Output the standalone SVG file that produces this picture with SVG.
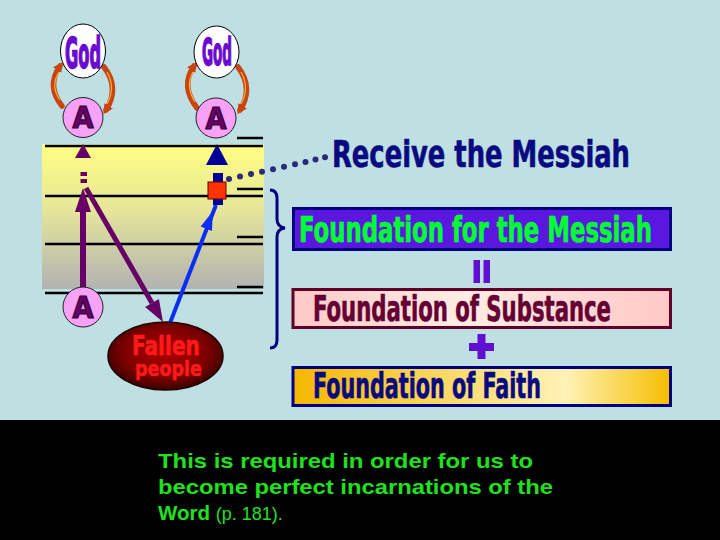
<svg xmlns="http://www.w3.org/2000/svg" width="720" height="540" viewBox="0 0 720 540">
<style>
.cond{font-family:"Liberation Sans Narrow","DejaVu Sans Condensed","Liberation Sans",sans-serif;font-weight:bold;font-stretch:condensed}
.hl{stroke:black;stroke-width:2.5}
.god{fill:#fff;stroke:#000;stroke-width:1}
.godt{fill:#6A0ACF;stroke:#6A0ACF;stroke-width:1.6}
.acirc{fill:#F7A2F7;stroke:#222;stroke-width:1}
.at{fill:#660066;stroke:#330033;stroke-width:1.2;text-anchor:middle}
.orng{fill:none;stroke:#C84512;stroke-width:5.5;stroke-linecap:round}
.orhl{fill:none;stroke:#F2B040;stroke-width:1.2}
.dot{fill:#2A2A7A}
</style>
<defs>
<linearGradient id="yg" x1="0" y1="0" x2="0" y2="1">
<stop offset="0" stop-color="#FFFF80"/>
<stop offset="0.45" stop-color="#E6E69A"/>
<stop offset="1" stop-color="#B2B2B2"/>
</linearGradient>
<radialGradient id="fg" cx="0.5" cy="0.45" r="0.55">
<stop offset="0" stop-color="#B00000"/>
<stop offset="0.7" stop-color="#7A0000"/>
<stop offset="1" stop-color="#380000"/>
</radialGradient>
<linearGradient id="pg" x1="0" y1="0" x2="1" y2="0">
<stop offset="0" stop-color="#FFC8C8"/>
<stop offset="0.45" stop-color="#FFEDE4"/>
<stop offset="1" stop-color="#FFC8C8"/>
</linearGradient>
<linearGradient id="gg" x1="0" y1="0" x2="1" y2="0">
<stop offset="0" stop-color="#F5B800"/>
<stop offset="0.72" stop-color="#FFF2B8"/>
<stop offset="1" stop-color="#F5BE00"/>
</linearGradient>
<marker id="oa" viewBox="0 0 10 10" refX="5" refY="5" markerWidth="10" markerHeight="10" markerUnits="userSpaceOnUse" orient="auto">
<path d="M0,0 L10,5 L0,10 Z" fill="#C84512"/>
</marker>
</defs>
<rect width="720" height="540" fill="#BEE0E3"/>
<rect x="42" y="144" width="222" height="145" fill="url(#yg)"/>
<g id="levels">
<line class="hl" x1="45" y1="146" x2="263" y2="146"/>
<line class="hl" x1="45" y1="196" x2="263" y2="196"/>
<line class="hl" x1="45" y1="244" x2="263" y2="244"/>
<line class="hl" x1="45" y1="293" x2="263" y2="293"/>
<line class="hl" x1="237" y1="138" x2="263" y2="138"/>
<line class="hl" x1="237" y1="189" x2="263" y2="189"/>
<line class="hl" x1="237" y1="237" x2="263" y2="237"/>
<line class="hl" x1="237" y1="287" x2="263" y2="287"/>
</g>
<g id="connectors">
<path class="orng" d="M62,106 Q46,86 60,66" marker-end="url(#oa)"/>
<path class="orhl" d="M60,100 Q50,86 59,72"/>
<path class="orng" d="M104,67 Q120,88 106,110" marker-end="url(#oa)"/>
<path class="orhl" d="M107,72 Q116,88 107,104"/>
<path class="orng" d="M197,108 Q180,86 194,66" marker-end="url(#oa)"/>
<path class="orhl" d="M195,102 Q185,86 193,72"/>
<path class="orng" d="M238,67 Q254,88 240,110" marker-end="url(#oa)"/>
<path class="orhl" d="M241,72 Q250,88 241,104"/>
<polygon points="83,144 75,158 91,158" fill="#660066"/>
<rect x="80.5" y="172" width="6.5" height="4" fill="#660066"/>
<rect x="80.5" y="179" width="6.5" height="4" fill="#660066"/>
<polygon points="83,188 75,212 91,212" fill="#660066"/>
<line x1="83" y1="210" x2="83" y2="290" stroke="#660066" stroke-width="6"/>
<line x1="86" y1="188" x2="152" y2="303" stroke="#660066" stroke-width="5"/>
<polygon points="163,322 145.1,306.9 158.9,298.9" fill="#660066"/>
<line x1="170" y1="323" x2="216" y2="205" stroke="#0A2EF5" stroke-width="4"/>
<polygon points="213,211 200.7,226.5 211.9,230.9" fill="#0A2EF5"/>
<polygon points="217,144 206,165 228,165" fill="#000099"/>
<rect x="213" y="173" width="10" height="32" fill="#000099"/>
<rect x="208" y="182" width="18" height="17" fill="#FF3300" stroke="#660000" stroke-width="1"/>
<g id="dots">
<circle class="dot" cx="229" cy="179" r="3"/>
<circle class="dot" cx="240" cy="176.6" r="3"/>
<circle class="dot" cx="251" cy="174.1" r="3"/>
<circle class="dot" cx="262" cy="171.7" r="3"/>
<circle class="dot" cx="273" cy="169.2" r="3"/>
<circle class="dot" cx="284" cy="166.7" r="3"/>
<circle class="dot" cx="295" cy="164.3" r="3"/>
<circle class="dot" cx="305.5" cy="162" r="3"/>
<circle class="dot" cx="315.5" cy="159.6" r="3"/>
<circle class="dot" cx="325" cy="157.3" r="3"/>
</g>
<path d="M270,190 Q277,190 277,198 L277,219 Q277,227 285,228 Q277,229 277,237 L277,340 Q277,348 270,348" fill="none" stroke="#000080" stroke-width="3"/>
<rect x="473.5" y="260" width="6.5" height="23" fill="#6010D0"/>
<rect x="483.5" y="260" width="6.5" height="23" fill="#6010D0"/>
<rect x="469" y="343" width="25" height="8" fill="#6010D0"/>
<rect x="477.5" y="334" width="8" height="25" fill="#6010D0"/>
</g>
<g id="god1">
<ellipse class="god" cx="83" cy="51" rx="22.5" ry="27"/>
<text class="cond godt" x="65" y="68" font-size="42" textLength="36" lengthAdjust="spacingAndGlyphs">God</text>
</g>
<g id="god2">
<ellipse class="god" cx="216.5" cy="52" rx="22.5" ry="26"/>
<text class="cond godt" x="202" y="65" font-size="37" textLength="30" lengthAdjust="spacingAndGlyphs">God</text>
</g>
<g id="a1">
<circle class="acirc" cx="83" cy="117.5" r="20"/>
<text class="cond at" x="83" y="128" font-size="31" textLength="21" lengthAdjust="spacingAndGlyphs">A</text>
</g>
<g id="a2">
<circle class="acirc" cx="216" cy="118" r="20"/>
<text class="cond at" x="216" y="129" font-size="31" textLength="21" lengthAdjust="spacingAndGlyphs">A</text>
</g>
<g id="a3">
<circle class="acirc" cx="83" cy="307" r="20"/>
<text class="cond at" x="83" y="318" font-size="31" textLength="21" lengthAdjust="spacingAndGlyphs">A</text>
</g>
<g id="fallen">
<ellipse cx="165.5" cy="356" rx="57.5" ry="34" fill="url(#fg)" stroke="#200000" stroke-width="1.5"/>
<text class="cond" x="132" y="355" font-size="27" fill="#FF1A1A" stroke="#FF1A1A" stroke-width="0.6" textLength="68" lengthAdjust="spacingAndGlyphs">Fallen</text>
<text class="cond" x="135" y="376" font-size="22" fill="#FF1A1A" stroke="#FF1A1A" stroke-width="0.5" textLength="67" lengthAdjust="spacingAndGlyphs">people</text>
</g>
<g id="receive">
<text class="cond" transform="translate(332,167) scale(1,1.24)" x="0" y="0" font-size="30" fill="#0A0A80" stroke="#0A0A80" stroke-width="0.5" textLength="298" lengthAdjust="spacingAndGlyphs">Receive the Messiah</text>
</g>
<g id="fmessiah">
<rect x="293.5" y="208.5" width="377" height="41" fill="#5B16E0" stroke="#000080" stroke-width="3"/>
<text class="cond" transform="translate(299,242) scale(1,1.25)" x="0" y="0" font-size="28" fill="#00FF33" stroke="#00FF33" stroke-width="0.5" textLength="353" lengthAdjust="spacingAndGlyphs">Foundation for the Messiah</text>
</g>
<g id="fsubstance">
<rect x="293" y="289.5" width="377.5" height="38" fill="url(#pg)" stroke="#600028" stroke-width="3"/>
<text class="cond" transform="translate(313,321) scale(1,1.28)" x="0" y="0" font-size="28" fill="#660033" stroke="#660033" stroke-width="0.5" textLength="298" lengthAdjust="spacingAndGlyphs">Foundation of Substance</text>
</g>
<g id="ffaith">
<rect x="293" y="367.5" width="377.5" height="38" fill="url(#gg)" stroke="#000080" stroke-width="3"/>
<text class="cond" transform="translate(313,398) scale(1,1.28)" x="0" y="0" font-size="28" fill="#0A0A80" stroke="#0A0A80" stroke-width="0.5" textLength="228" lengthAdjust="spacingAndGlyphs">Foundation of Faith</text>
</g>
<rect x="0" y="420" width="720" height="120" fill="#000"/>
<g id="caption" font-family="Liberation Sans, Arial, sans-serif" fill="#20E020">
<text x="158" y="468" font-size="20.5" font-weight="bold" textLength="375" lengthAdjust="spacingAndGlyphs">This is required in order for us to</text>
<text x="158" y="494" font-size="20.5" font-weight="bold" textLength="395" lengthAdjust="spacingAndGlyphs">become perfect incarnations of the</text>
<text x="158" y="520" font-size="20.5" font-weight="bold">Word <tspan font-size="18" font-weight="normal">(p. 181).</tspan></text>
</g>
</svg>
